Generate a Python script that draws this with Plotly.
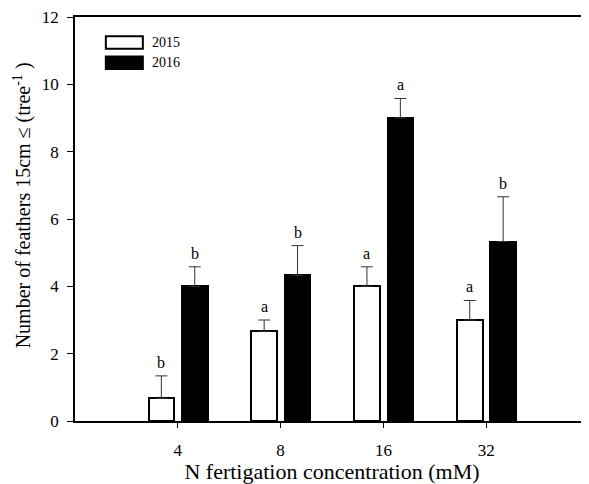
import plotly.graph_objects as go

categories = ["4", "8", "16", "32"]
series_names = ["2015", "2016"]
values_2015 = [0.67, 2.67, 4.0, 3.0]
errors_2015 = [0.67, 0.33, 0.58, 0.58]
letters_2015 = ["b", "a", "a", "a"]
values_2016 = [4.0, 4.33, 9.0, 5.33]
errors_2016 = [0.58, 0.88, 0.58, 1.33]
letters_2016 = ["b", "b", "a", "b"]

FONT = "Liberation Serif, Times New Roman, serif"
xpos = list(range(1, len(categories) + 1))
bar_w = 0.25
offsets = [-0.285, 0.04]
fills = ["white", "black"]

fig = go.Figure()
series = [(values_2015, errors_2015, letters_2015), (values_2016, errors_2016, letters_2016)]
for i, (vals, errs, lets) in enumerate(series):
    fig.add_trace(go.Bar(
        x=xpos, y=vals, width=bar_w, offset=offsets[i], name=series_names[i],
        marker=dict(color=fills[i], line=dict(color="black", width=2)),
        error_y=dict(type="data", symmetric=False, array=errs,
                     arrayminus=[0] * len(errs), color="#333", thickness=1, width=6),
        showlegend=False,
    ))
    for x, v, e, l in zip(xpos, vals, errs, lets):
        fig.add_annotation(x=x + offsets[i] + bar_w / 2, y=v + e, text=l,
                           showarrow=False, yanchor="bottom", yshift=3,
                           font=dict(family=FONT, size=16, color="black"))

# legend drawn manually with wide boxes
leg_y = [0.937, 0.887]
for i, name in enumerate(series_names):
    fig.add_shape(type="rect", xref="paper", yref="paper",
                  x0=0.060, x1=0.132, y0=leg_y[i] - 0.0155, y1=leg_y[i] + 0.0155,
                  fillcolor=fills[i], line=dict(color="black", width=2))
    fig.add_annotation(xref="paper", yref="paper", x=0.146, y=leg_y[i], text=name,
                       showarrow=False, xanchor="left", yanchor="middle",
                       font=dict(family=FONT, size=14, color="black"))

# y-axis title as rotated annotation for exact placement
fig.add_annotation(xref="paper", yref="paper", x=-0.103, y=0.534,
                   text="Number of feathers 15cm \u2264 (tree<sup>-1</sup> )",
                   textangle=-90, showarrow=False, xanchor="center", yanchor="middle",
                   font=dict(family=FONT, size=20, color="black"))

fig.update_layout(
    width=581, height=476,
    margin=dict(l=67, r=0, t=7, b=63),
    plot_bgcolor="white", paper_bgcolor="white",
    font=dict(family=FONT, size=17, color="black"),
    bargap=0,
)
fig.update_xaxes(
    range=[0, 5], tickvals=xpos, ticktext=categories,
    ticks="outside", ticklen=5, tickwidth=1, tickcolor="black",
    ticklabelstandoff=8, ticklabeloverflow="allow",
    showline=True, linecolor="black", linewidth=1.5, mirror=True,
    showgrid=False, zeroline=False,
    title=dict(text="N fertigation concentration (mM)", font=dict(size=22), standoff=4),
)
fig.update_yaxes(
    range=[0, 12], dtick=2, tick0=0,
    ticks="outside", ticklen=6, tickwidth=1, tickcolor="black",
    ticklabelstandoff=5, ticklabeloverflow="allow",
    showline=True, linecolor="black", linewidth=1.5,
    showgrid=False, zeroline=False,
)

fig.write_html("out.html")
